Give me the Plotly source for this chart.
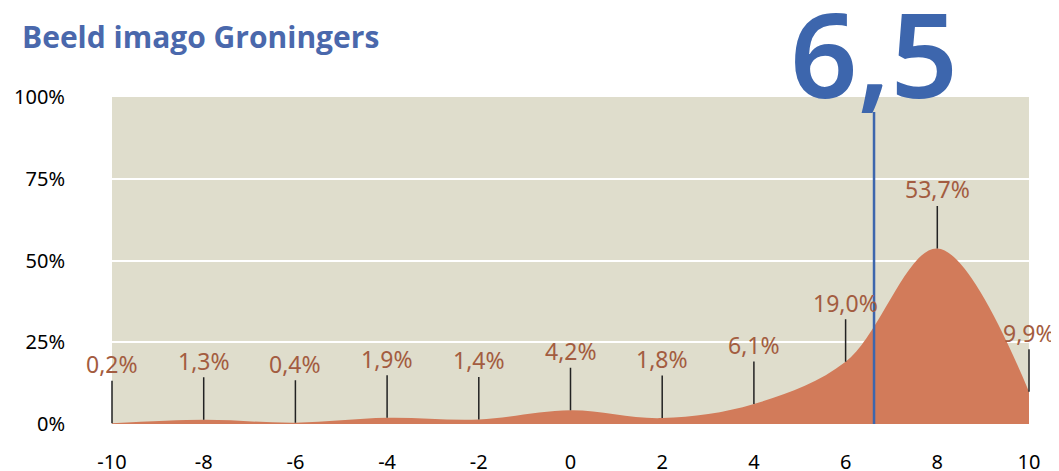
import plotly.graph_objects as go

scores = [-10, -8, -6, -4, -2, 0, 2, 4, 6, 8, 10]
shares = [0.2, 1.3, 0.4, 1.9, 1.4, 4.2, 1.8, 6.1, 19.0, 53.7, 9.9]
share_labels = ["0,2%", "1,3%", "0,4%", "1,9%", "1,4%", "4,2%", "1,8%", "6,1%", "19,0%", "53,7%", "9,9%"]
y_ticks = [0, 25, 50, 75, 100]
y_tick_labels = ["0%", "25%", "50%", "75%", "100%"]
mean_label = "6,5"
mean_line_x = 6.62
title = "Beeld imago Groningers"

ORANGE = "#d27b5a"
BROWN = "#a35c40"
BLUE = "#3d66ad"
BEIGE = "#dfddcc"

fig = go.Figure()
fig.add_trace(go.Scatter(
    x=scores, y=shares, mode="lines", line=dict(shape="spline", smoothing=1.0, width=0, color=ORANGE),
    fill="tozeroy", fillcolor=ORANGE, hoverinfo="skip", showlegend=False,
))

for x, y, t in zip(scores, shares, share_labels):
    fig.add_annotation(
        x=x, y=y, xref="x", yref="y", text=t, showarrow=True,
        arrowhead=0, arrowwidth=1.5, arrowcolor="#222222", ax=0, ay=-59,
        font=dict(family="Noto Sans", size=23, color=BROWN), standoff=0, borderpad=0,
    )

fig.add_shape(type="line", x0=mean_line_x, x1=mean_line_x, xref="x", yref="paper",
              y0=0, y1=0.954, line=dict(color=BLUE, width=2.5), layer="above")
fig.add_annotation(x=mean_line_x, y=1.0, xref="x", yref="paper", yanchor="bottom",
                   yshift=-38, text=mean_label, showarrow=False,
                   font=dict(family="Noto Sans", size=118, color=BLUE, weight=600))

fig.add_annotation(x=-0.1003, y=1.0, xref="paper", yref="paper", xanchor="left", yanchor="middle",
                   yshift=61, text="<b>" + title + "</b>", showarrow=False,
                   font=dict(family="Open Sans", size=30, color="#4a68ac"))

fig.update_layout(
    width=1051, height=463,
    margin=dict(l=104, r=30, t=89, b=47),
    paper_bgcolor="white", plot_bgcolor=BEIGE,
    showlegend=False,
    xaxis=dict(range=[-10, 10], tickvals=scores, ticktext=[str(s) for s in scores],
               showgrid=False, zeroline=False, showline=False, automargin=False,
               tickfont=dict(family="Noto Sans", size=20, color="black"),
               ticks="outside", ticklen=20, tickcolor="rgba(0,0,0,0)"),
    yaxis=dict(range=[0, 100], tickvals=y_ticks, ticktext=y_tick_labels,
               showgrid=True, gridcolor="white", gridwidth=2, zeroline=False, showline=False,
               automargin=False,
               tickfont=dict(family="Noto Sans", size=20, color="black"),
               ticks="outside", ticklen=42, tickcolor="rgba(0,0,0,0)"),
)

fig.write_html("out.html")
